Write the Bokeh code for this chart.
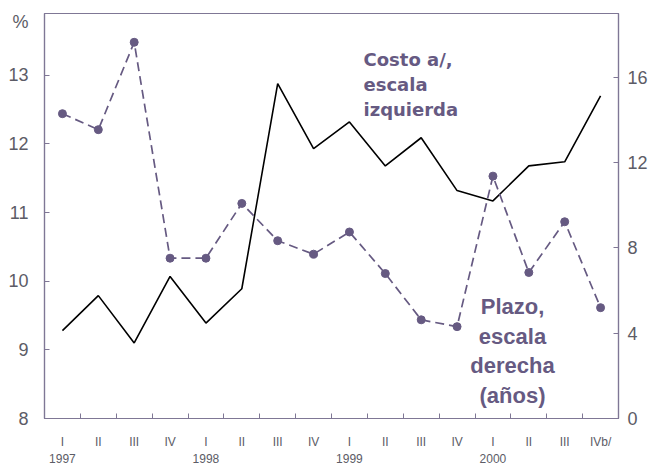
from bokeh.plotting import figure
from bokeh.models import Range1d, LinearAxis, FixedTicker, Label
from bokeh.embed import file_html
from bokeh.resources import INLINE

# ---- data ----
quarters = ["I", "II", "III", "IV", "I", "II", "III", "IV",
            "I", "II", "III", "IV", "I", "II", "III", "IVb/"]
years = ["1997", "1998", "1999", "2000"]
costo = [9.28, 9.79, 9.10, 10.07, 9.39, 9.89, 12.88, 11.93,
         12.32, 11.68, 12.09, 11.32, 11.17, 11.68, 11.74, 12.70]
plazo = [14.30, 13.55, 17.65, 7.52, 7.52, 10.09, 8.34, 7.71,
         8.75, 6.80, 4.63, 4.31, 11.37, 6.85, 9.23, 5.20]
left_ticks = [8, 9, 10, 11, 12, 13]
right_ticks = [0, 4, 8, 12, 16]
unit_label = "%"
unit_pos = 13.77

x = list(range(1, len(quarters) + 1))

AXIS = "#7f7795"
TICKTXT = "#5c5c66"
PURPLE = "#665a82"

p = figure(width=656, height=465, x_range=Range1d(0.5, 16.5), y_range=Range1d(8, 13.9),
           min_border_left=44, min_border_right=38, min_border_top=13, min_border_bottom=46,
           toolbar_location=None, output_backend="svg")
p.grid.visible = False
p.outline_line_color = AXIS
p.outline_line_width = 1.2
p.background_fill_color = "white"
p.border_fill_color = "white"

p.extra_y_ranges = {"right": Range1d(0, 19)}

# left axis (visible tick marks drawn as minor ticks; extra major tick carries the unit)
ya = p.yaxis[0]
ya.ticker = FixedTicker(ticks=left_ticks + [unit_pos], minor_ticks=left_ticks)
ya.major_label_overrides = {unit_pos: unit_label}
ya.major_tick_in = 0
ya.major_tick_out = 0
ya.minor_tick_in = 5
ya.minor_tick_out = 0
ya.minor_tick_line_color = AXIS
ya.axis_line_color = AXIS
ya.axis_line_width = 1.2
ya.major_label_text_font = "Liberation Sans"
ya.major_label_text_font_size = "18px"
ya.major_label_text_color = TICKTXT
ya.major_label_standoff = 16

# right axis
ra = LinearAxis(y_range_name="right")
ra.ticker = FixedTicker(ticks=right_ticks, minor_ticks=[])
ra.major_tick_in = 5
ra.major_tick_out = 0
ra.minor_tick_in = 0
ra.minor_tick_out = 0
ra.axis_line_color = AXIS
ra.axis_line_width = 1.2
ra.major_tick_line_color = AXIS
ra.major_label_text_font = "Liberation Sans"
ra.major_label_text_font_size = "18px"
ra.major_label_text_color = TICKTXT
ra.major_label_standoff = 9
p.add_layout(ra, "right")

# bottom axis: labels at quarter centres, tick marks at boundaries
xa = p.xaxis[0]
xa.ticker = FixedTicker(ticks=x, minor_ticks=[v + 0.5 for v in x[:-1]])
xa.major_label_overrides = {v: q for v, q in zip(x, quarters)}
xa.major_tick_in = 0
xa.major_tick_out = 0
xa.minor_tick_in = 5
xa.minor_tick_out = 0
xa.minor_tick_line_color = AXIS
xa.axis_line_color = AXIS
xa.axis_line_width = 1.2
xa.major_label_text_font = "Liberation Sans"
xa.major_label_text_font_size = "12px"
xa.major_label_text_color = TICKTXT
xa.major_label_standoff = 16

# year row under the first quarter of each year
year_pos = [x[4 * i] for i in range(len(years))]
ya2 = LinearAxis()
ya2.ticker = FixedTicker(ticks=year_pos, minor_ticks=[])
ya2.major_label_overrides = {v: t for v, t in zip(year_pos, years)}
ya2.major_tick_in = 0
ya2.major_tick_out = 0
ya2.minor_tick_in = 0
ya2.minor_tick_out = 0
ya2.axis_line_color = None
ya2.major_label_text_font = "Liberation Sans"
ya2.major_label_text_font_size = "12px"
ya2.major_label_text_color = TICKTXT
ya2.major_label_standoff = 2
p.add_layout(ya2, "below")

# series
p.line(x, costo, line_color="black", line_width=1.6)
p.line(x, plazo, y_range_name="right", line_color=PURPLE, line_width=1.7, line_dash="9 5")
p.scatter(x, plazo, y_range_name="right", size=8, fill_color=PURPLE, line_color=PURPLE)

# annotations
for txt, yy in zip(["Costo a/,", "escala", "izquierda"], [13.228, 12.865, 12.501]):
    p.add_layout(Label(x=9.392, y=yy, text=txt, text_align="left", text_baseline="alphabetic",
                       text_font="DejaVu Sans", text_font_style="bold",
                       text_font_size="18px", text_color=PURPLE))

for txt, yy in zip(["Plazo,", "escala", "derecha", "(años)"], [9.628, 9.199, 8.770, 8.342]):
    p.add_layout(Label(x=13.545, y=yy, text=txt, text_align="center", text_baseline="alphabetic",
                       text_font="Liberation Sans", text_font_style="bold",
                       text_font_size="22px", text_color=PURPLE))

open("out.html", "w").write(file_html(p, INLINE))
